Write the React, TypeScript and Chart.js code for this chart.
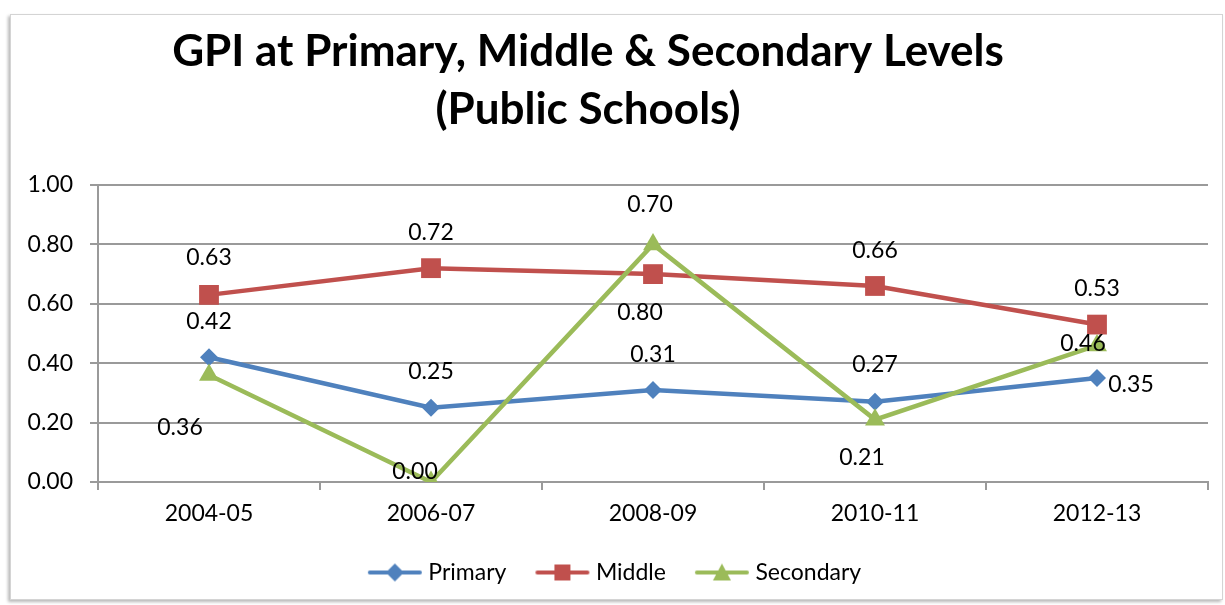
import React, { useEffect, useRef } from "react";
import { Chart, registerables } from "chart.js";

Chart.register(...registerables);

// School years on the x axis
const years = ["2004-05", "2006-07", "2008-09", "2010-11", "2012-13"];

// Gender Parity Index per level
const primary = [0.42, 0.25, 0.31, 0.27, 0.35];
const middle = [0.63, 0.72, 0.7, 0.66, 0.53];
const secondary = [0.36, 0.0, 0.8, 0.21, 0.46];

const seriesNames = ["Primary", "Middle", "Secondary"];

// Value-axis range and step
const yMin = 0;
const yMax = 1;
const yStep = 0.2;

// Where each value label sits relative to its point (dx, dy in px)
const primaryLabelOffsets = [[0, -36], [0, -36], [0, -35], [0, -37], [34, 7]];
const middleLabelOffsets = [[0, -37], [0, -36], [-3, -70], [0, -35], [0, -36]];
const secondaryLabelOffsets = [[-29, 52], [-16, -10], [-13, 68], [-13, 38], [-14, -2]];

const COLORS = ["#4F81BD", "#C0504D", "#9BBB59"];
const FONT = "Lato, 'Open Sans', sans-serif";
const GRID = "#9a9a9a";
const TEXT_SIZE = 23;

const TITLE_SHIFT = -16;
const LEGEND_SHIFT = 13;

function legendIcon(color: string, shape: string): HTMLCanvasElement {
  const c = document.createElement("canvas");
  c.width = 56;
  c.height = 20;
  const g = c.getContext("2d")!;
  g.strokeStyle = color;
  g.fillStyle = color;
  g.lineWidth = 4;
  g.lineCap = "round";
  g.beginPath();
  g.moveTo(3, 10);
  g.lineTo(53, 10);
  g.stroke();
  g.beginPath();
  if (shape === "diamond") {
    g.moveTo(28, 1);
    g.lineTo(37, 10);
    g.lineTo(28, 19);
    g.lineTo(19, 10);
  } else if (shape === "square") {
    g.rect(20, 2, 16, 16);
  } else {
    g.moveTo(28, 1);
    g.lineTo(37, 18);
    g.lineTo(19, 18);
  }
  g.closePath();
  g.fill();
  return c;
}

const valueLabels = {
  id: "valueLabels",
  afterDatasetsDraw(chart: any) {
    const offsets = [primaryLabelOffsets, middleLabelOffsets, secondaryLabelOffsets];
    const ctx = chart.ctx;
    ctx.save();
    ctx.font = `${TEXT_SIZE}px ${FONT}`;
    ctx.fillStyle = "#000";
    ctx.textAlign = "center";
    ctx.textBaseline = "middle";
    chart.data.datasets.forEach((ds: any, di: number) => {
      const meta = chart.getDatasetMeta(di);
      meta.data.forEach((pt: any, i: number) => {
        const [dx, dy] = offsets[di][i];
        ctx.fillText(Number(ds.data[i]).toFixed(2), pt.x + dx, pt.y + dy);
      });
    });
    ctx.restore();
  },
};

const shiftBlocks = {
  id: "shiftBlocks",
  afterLayout(chart: any) {
    if (chart.titleBlock) {
      chart.titleBlock.left += TITLE_SHIFT;
      chart.titleBlock.right += TITLE_SHIFT;
    }
    if (chart.legend) {
      chart.legend.left += LEGEND_SHIFT;
      chart.legend.right += LEGEND_SHIFT;
    }
  },
};

export default function App() {
  const ref = useRef<HTMLCanvasElement>(null);

  useEffect(() => {
    const icons = [
      legendIcon(COLORS[0], "diamond"),
      legendIcon(COLORS[1], "square"),
      legendIcon(COLORS[2], "triangle"),
    ];
    const chart = new Chart(ref.current!, {
      type: "line",
      data: {
        labels: years,
        datasets: [
          {
            label: seriesNames[0],
            data: primary,
            borderColor: COLORS[0],
            backgroundColor: COLORS[0],
            borderWidth: 4.5,
            pointStyle: "rectRot",
            pointRadius: 9,
            pointBorderWidth: 0,
            order: 3,
          },
          {
            label: seriesNames[1],
            data: middle,
            borderColor: COLORS[1],
            backgroundColor: COLORS[1],
            borderWidth: 4.5,
            pointStyle: "rect",
            pointRadius: 14,
            pointBorderWidth: 0,
            order: 2,
          },
          {
            label: seriesNames[2],
            data: secondary,
            borderColor: COLORS[2],
            backgroundColor: COLORS[2],
            borderWidth: 4.5,
            pointStyle: "triangle",
            pointRadius: 11.5,
            pointBorderWidth: 0,
            order: 1,
          },
        ],
      },
      options: {
        animation: false,
        responsive: false,
        maintainAspectRatio: false,
        layout: { padding: { left: 0, right: 17, top: 0, bottom: 11 } },
        scales: {
          x: {
            offset: true,
            grid: {
              offset: true,
              drawOnChartArea: false,
              drawTicks: true,
              tickLength: 8,
              color: GRID,
              lineWidth: 2,
            },
            border: { display: true, color: GRID, width: 2 },
            ticks: { color: "#000", font: { family: FONT, size: TEXT_SIZE }, padding: 10 },
            afterFit(s: any) {
              s.height = 45;
            },
          },
          y: {
            min: yMin,
            max: yMax,
            grid: { color: GRID, lineWidth: 2, tickLength: 8, drawTicks: true },
            border: { display: true, color: GRID, width: 2 },
            ticks: {
              stepSize: yStep,
              color: "#000",
              font: { family: FONT, size: TEXT_SIZE },
              padding: 17,
              callback: (v: any) => Number(v).toFixed(2),
            },
            afterFit(s: any) {
              s.width = 98;
            },
          },
        },
        plugins: {
          title: {
            display: true,
            text: ["GPI at Primary, Middle & Secondary Levels", "(Public Schools)"],
            color: "#000",
            font: { family: FONT, size: 44, weight: "bold", lineHeight: 58 / 44 },
            padding: { top: 23, bottom: 46 },
          },
          legend: {
            display: true,
            position: "bottom",
            maxHeight: 78,
            labels: {
              usePointStyle: true,
              pointStyleWidth: 44,
              boxHeight: 20,
              padding: 34,
              color: "#000",
              font: { family: FONT, size: TEXT_SIZE },
              generateLabels(c: any) {
                const items = Chart.defaults.plugins.legend.labels.generateLabels(c);
                items.sort((a: any, b: any) => a.datasetIndex - b.datasetIndex);
                items.forEach((it: any) => {
                  it.pointStyle = icons[it.datasetIndex];
                });
                return items;
              },
            },
          },
          tooltip: { enabled: false },
        },
      },
      plugins: [valueLabels, shiftBlocks],
    });
    return () => chart.destroy();
  }, []);

  return (
    <div style={{ position: "absolute", left: 0, top: 0, width: 1225, height: 605, background: "#fff" }}>
      <div
        style={{
          position: "absolute",
          left: 10,
          top: 14,
          width: 1211,
          height: 584,
          border: "1px solid #d4d4d4",
          boxShadow: "-2px 2px 3px rgba(0,0,0,0.28)",
        }}
      />
      <canvas
        ref={ref}
        width={1225}
        height={605}
        style={{ position: "absolute", left: 0, top: 0, width: 1225, height: 605 }}
      />
    </div>
  );
}
